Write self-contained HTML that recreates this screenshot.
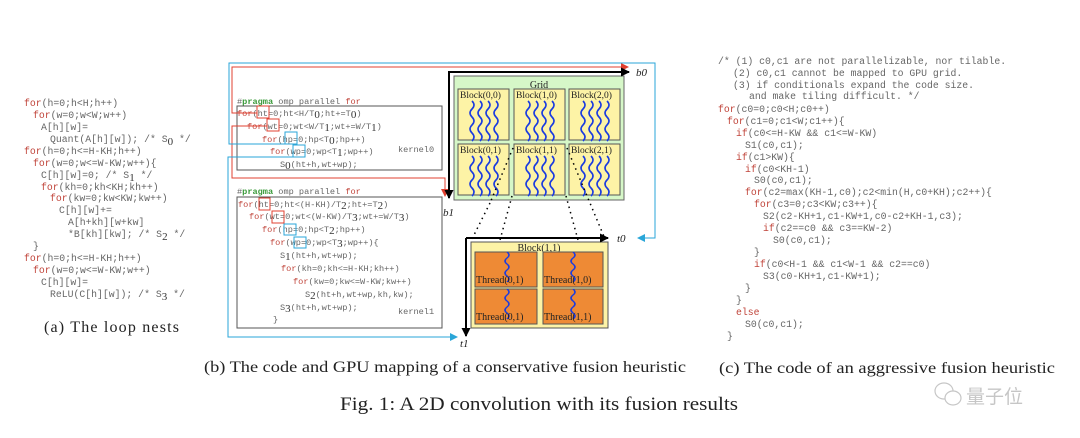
<!DOCTYPE html>
<html><head><meta charset="utf-8"><style>
html,body{margin:0;padding:0;background:#fff;}
svg{display:block;}
.m{font-family:"Liberation Mono",monospace;fill:#666;}
.k{fill:#c0443a;}
.g{fill:#3a9a3a;font-weight:bold;}
.s{font-family:"Liberation Serif",serif;fill:#222;}
.sub{font-family:"Liberation Serif",serif;font-size:11px;fill:#333;}
</style></head><body>
<svg width="1080" height="438" viewBox="0 0 1080 438" xmlns="http://www.w3.org/2000/svg">
<defs>
<marker id="ar" markerWidth="8" markerHeight="8" refX="7" refY="4" orient="auto" markerUnits="userSpaceOnUse"><path d="M0,0 L8,4 L0,8z" fill="#e04030"/></marker>
<marker id="ab" markerWidth="8" markerHeight="8" refX="7" refY="4" orient="auto" markerUnits="userSpaceOnUse"><path d="M0,0 L8,4 L0,8z" fill="#2aa6d8"/></marker>
<marker id="ak" markerWidth="9" markerHeight="9" refX="8" refY="4.5" orient="auto" markerUnits="userSpaceOnUse"><path d="M0,0 L9,4.5 L0,9z" fill="#000"/></marker>
<g id="wv"><path d="M0,0 q4,4 0,8 q-4,4 0,8 q4,4 0,8 q-4,4 0,8 q4,4 0,8" fill="none" stroke="#1a3be0" stroke-width="1.6"/></g>
</defs>

<!-- (a) -->
<g class="m" font-size="9.8">
<text x="24" y="106"><tspan class="k">for</tspan>(h=0;h&lt;H;h++)</text>
<text x="33" y="118"><tspan class="k">for</tspan>(w=0;w&lt;W;w++)</text>
<text x="41" y="130">A[h][w]=</text>
<text x="50" y="142">Quant(A[h][w]); /* S<tspan class="sub" dy="3">0</tspan><tspan dy="-3"> */</tspan></text>
<text x="24" y="154"><tspan class="k">for</tspan>(h=0;h&lt;=H-KH;h++)</text>
<text x="33" y="166"><tspan class="k">for</tspan>(w=0;w&lt;=W-KW;w++){</text>
<text x="41" y="178">C[h][w]=0;    /* S<tspan class="sub" dy="3">1</tspan><tspan dy="-3"> */</tspan></text>
<text x="41" y="190"><tspan class="k">for</tspan>(kh=0;kh&lt;KH;kh++)</text>
<text x="50" y="201"><tspan class="k">for</tspan>(kw=0;kw&lt;KW;kw++)</text>
<text x="59" y="213">C[h][w]+=</text>
<text x="68" y="225">A[h+kh][w+kw]</text>
<text x="68" y="237">*B[kh][kw]; /* S<tspan class="sub" dy="3">2</tspan><tspan dy="-3"> */</tspan></text>
<text x="33" y="249">}</text>
<text x="24" y="261"><tspan class="k">for</tspan>(h=0;h&lt;=H-KH;h++)</text>
<text x="33" y="273"><tspan class="k">for</tspan>(w=0;w&lt;=W-KW;w++)</text>
<text x="41" y="285">C[h][w]=</text>
<text x="50" y="297">ReLU(C[h][w]); /* S<tspan class="sub" dy="3">3</tspan><tspan dy="-3"> */</tspan></text>
</g>
<text class="s" x="44" y="332" font-size="16" textLength="135">(a) The loop nests</text>

<!-- (b) code -->
<rect x="237" y="106" width="205" height="64" fill="none" stroke="#555" stroke-width="1"/>
<rect x="237" y="197" width="205" height="131" fill="none" stroke="#555" stroke-width="1"/>
<g class="m" font-size="8.6">
<text x="237" y="104">#<tspan class="g">pragma</tspan> omp parallel <tspan class="k">for</tspan></text>
<text x="237" y="116"><tspan class="k">for</tspan>(ht=0;ht&lt;H/T<tspan class="sub" dy="2">0</tspan><tspan dy="-2">;ht+=T</tspan><tspan class="sub" dy="2">0</tspan><tspan dy="-2">)</tspan></text>
<text x="247" y="129"><tspan class="k">for</tspan>(wt=0;wt&lt;W/T<tspan class="sub" dy="2">1</tspan><tspan dy="-2">;wt+=W/T</tspan><tspan class="sub" dy="2">1</tspan><tspan dy="-2">)</tspan></text>
<text x="262" y="142"><tspan class="k">for</tspan>(hp=0;hp&lt;T<tspan class="sub" dy="2">0</tspan><tspan dy="-2">;hp++)</tspan></text>
<text x="270" y="154"><tspan class="k">for</tspan>(wp=0;wp&lt;T<tspan class="sub" dy="2">1</tspan><tspan dy="-2">;wp++)</tspan></text>
<text x="280" y="167">S<tspan class="sub" dy="2">0</tspan><tspan dy="-2">(ht+h,wt+wp);</tspan></text>
<text x="398" y="152">kernel0</text>
<text x="237" y="194">#<tspan class="g">pragma</tspan> omp parallel <tspan class="k">for</tspan></text>
<text x="238" y="207"><tspan class="k">for</tspan>(ht=0;ht&lt;(H-KH)/T<tspan class="sub" dy="2">2</tspan><tspan dy="-2">;ht+=T</tspan><tspan class="sub" dy="2">2</tspan><tspan dy="-2">)</tspan></text>
<text x="249" y="219"><tspan class="k">for</tspan>(wt=0;wt&lt;(W-KW)/T<tspan class="sub" dy="2">3</tspan><tspan dy="-2">;wt+=W/T</tspan><tspan class="sub" dy="2">3</tspan><tspan dy="-2">)</tspan></text>
<text x="262" y="232"><tspan class="k">for</tspan>(hp=0;hp&lt;T<tspan class="sub" dy="2">2</tspan><tspan dy="-2">;hp++)</tspan></text>
<text x="270" y="245"><tspan class="k">for</tspan>(wp=0;wp&lt;T<tspan class="sub" dy="2">3</tspan><tspan dy="-2">;wp++){</tspan></text>
<text x="280" y="258">S<tspan class="sub" dy="2">1</tspan><tspan dy="-2">(ht+h,wt+wp);</tspan></text>
<text x="281" y="271"><tspan class="k">for</tspan>(kh=0;kh&lt;=H-KH;kh++)</text>
<text x="293" y="284"><tspan class="k">for</tspan>(kw=0;kw&lt;=W-KW;kw++)</text>
<text x="305" y="297">S<tspan class="sub" dy="2">2</tspan><tspan dy="-2">(ht+h,wt+wp,kh,kw);</tspan></text>
<text x="280" y="310">S<tspan class="sub" dy="2">3</tspan><tspan dy="-2">(ht+h,wt+wp);</tspan></text>
<text x="398" y="314">kernel1</text>
<text x="273" y="322">}</text>
</g>
<!-- highlight boxes -->
<g fill="none" stroke-width="1">
<rect x="257" y="106" width="12" height="12" stroke="#e04030"/>
<rect x="267" y="119" width="12" height="12" stroke="#e04030"/>
<rect x="285" y="132" width="12" height="12" stroke="#2aa6d8"/>
<rect x="293" y="145" width="12" height="12" stroke="#2aa6d8"/>
<rect x="259" y="198" width="11" height="12" stroke="#e04030"/>
<rect x="272" y="211" width="12" height="12" stroke="#e04030"/>
<rect x="284" y="224" width="12" height="11" stroke="#2aa6d8"/>
<rect x="294" y="237" width="12" height="11" stroke="#2aa6d8"/>
</g>
<!-- connectors -->
<polyline points="257,113 232,113 232,67 628,67" fill="none" stroke="#e04030" stroke-width="1" marker-end="url(#ar)"/>
<polyline points="267,126 232,126 232,178 445,178 445,196" fill="none" stroke="#e04030" stroke-width="1" marker-end="url(#ar)"/>
<polyline points="285,144 229,144 229,63 655,63 655,238 638,238" fill="none" stroke="#2aa6d8" stroke-width="1" marker-end="url(#ab)"/>
<polyline points="293,157 228,157 228,337 457,337" fill="none" stroke="#2aa6d8" stroke-width="1" marker-end="url(#ab)"/>

<!-- Grid -->
<rect x="454" y="76" width="170" height="124" fill="#d6f7c8" stroke="#666" stroke-width="1"/>
<polyline points="629,72 449,72 449,197" fill="none" stroke="#000" stroke-width="2"/>
<line x1="449" y1="72" x2="629" y2="72" stroke="#000" stroke-width="2" marker-end="url(#ak)"/>
<line x1="449" y1="72" x2="449" y2="198" stroke="#000" stroke-width="2" marker-end="url(#ak)"/>
<text class="s" x="539" y="88" font-size="10" text-anchor="middle">Grid</text>
<g font-family="Liberation Serif,serif" font-size="9.5" fill="#222">
<g transform="translate(458,89)"><rect width="51" height="51" fill="#fdf3a6" stroke="#555"/><text x="2" y="9">Block(0,0)</text><use href="#wv" x="14" y="12"/><use href="#wv" x="22" y="12"/><use href="#wv" x="30" y="12"/><use href="#wv" x="38" y="12"/></g>
<g transform="translate(514,89)"><rect width="51" height="51" fill="#fdf3a6" stroke="#555"/><text x="2" y="9">Block(1,0)</text><use href="#wv" x="14" y="12"/><use href="#wv" x="22" y="12"/><use href="#wv" x="30" y="12"/><use href="#wv" x="38" y="12"/></g>
<g transform="translate(569,89)"><rect width="51" height="51" fill="#fdf3a6" stroke="#555"/><text x="2" y="9">Block(2,0)</text><use href="#wv" x="14" y="12"/><use href="#wv" x="22" y="12"/><use href="#wv" x="30" y="12"/><use href="#wv" x="38" y="12"/></g>
<g transform="translate(458,144)"><rect width="51" height="51" fill="#fdf3a6" stroke="#555"/><text x="2" y="9">Block(0,1)</text><use href="#wv" x="14" y="12"/><use href="#wv" x="22" y="12"/><use href="#wv" x="30" y="12"/><use href="#wv" x="38" y="12"/></g>
<g transform="translate(514,144)"><rect width="51" height="51" fill="#fdf3a6" stroke="#555"/><text x="2" y="9">Block(1,1)</text><use href="#wv" x="14" y="12"/><use href="#wv" x="22" y="12"/><use href="#wv" x="30" y="12"/><use href="#wv" x="38" y="12"/></g>
<g transform="translate(569,144)"><rect width="51" height="51" fill="#fdf3a6" stroke="#555"/><text x="2" y="9">Block(2,1)</text><use href="#wv" x="14" y="12"/><use href="#wv" x="22" y="12"/><use href="#wv" x="30" y="12"/><use href="#wv" x="38" y="12"/></g>
</g>
<text class="s" x="636" y="76" font-size="11" font-style="italic">b0</text>
<text class="s" x="443" y="216" font-size="11" font-style="italic">b1</text>

<!-- dotted -->
<g stroke="#000" stroke-width="1.5" stroke-dasharray="1.5,4" fill="none">
<line x1="513" y1="148" x2="490" y2="203"/>
<line x1="490" y1="203" x2="472" y2="239"/>
<line x1="512" y1="196" x2="500" y2="240"/>
<line x1="566" y1="196" x2="578" y2="240"/>
<line x1="567" y1="148" x2="605" y2="239"/>
</g>

<!-- Block(1,1) detail -->
<rect x="471" y="242" width="137" height="86" fill="#fdf3a6" stroke="#555"/>
<line x1="466" y1="238" x2="608" y2="238" stroke="#000" stroke-width="2" marker-end="url(#ak)"/>
<line x1="466" y1="238" x2="466" y2="336" stroke="#000" stroke-width="2" marker-end="url(#ak)"/>
<text class="s" x="539" y="251" font-size="10" text-anchor="middle">Block(1,1)</text>
<g font-family="Liberation Serif,serif" font-size="10" fill="#222">
<g transform="translate(475,252)"><rect width="62" height="35" fill="#ee8a35" stroke="#555"/><use href="#wv" x="32" y="0" transform="scale(1,0.75)"/><text x="1" y="31">Thread(0,1)</text></g>
<g transform="translate(543,252)"><rect width="60" height="35" fill="#ee8a35" stroke="#555"/><use href="#wv" x="30" y="0" transform="scale(1,0.75)"/><text x="1" y="31">Thread(1,0)</text></g>
<g transform="translate(475,289)"><rect width="62" height="35" fill="#ee8a35" stroke="#555"/><use href="#wv" x="32" y="0" transform="scale(1,0.75)"/><text x="1" y="31">Thread(0,1)</text></g>
<g transform="translate(543,289)"><rect width="60" height="35" fill="#ee8a35" stroke="#555"/><use href="#wv" x="30" y="0" transform="scale(1,0.75)"/><text x="1" y="31">Thread(1,1)</text></g>
</g>
<text class="s" x="617" y="242" font-size="11" font-style="italic">t0</text>
<text class="s" x="460" y="347" font-size="11" font-style="italic">t1</text>

<text class="s" x="204" y="372" font-size="16" textLength="482" lengthAdjust="spacingAndGlyphs">(b) The code and GPU mapping of a conservative fusion heuristic</text>

<!-- (c) -->
<g class="m" font-size="9.8">
<text x="718" y="64">/* (1) c0,c1 are not parallelizable, nor tilable.</text>
<text x="733" y="76">(2) c0,c1 cannot be mapped to GPU grid.</text>
<text x="733" y="88">(3) if conditionals expand the code size.</text>
<text x="749" y="99">and make tiling difficult. */</text>
<text x="718" y="112"><tspan class="k">for</tspan>(c0=0;c0&lt;H;c0++)</text>
<text x="727" y="124"><tspan class="k">for</tspan>(c1=0;c1&lt;W;c1++){</text>
<text x="736" y="136"><tspan class="k">if</tspan>(c0&lt;=H-KW &amp;&amp; c1&lt;=W-KW)</text>
<text x="745" y="148">S1(c0,c1);</text>
<text x="736" y="160"><tspan class="k">if</tspan>(c1&gt;KW){</text>
<text x="745" y="172"><tspan class="k">if</tspan>(c0&lt;KH-1)</text>
<text x="754" y="183">S0(c0,c1);</text>
<text x="745" y="195"><tspan class="k">for</tspan>(c2=max(KH-1,c0);c2&lt;min(H,c0+KH);c2++){</text>
<text x="754" y="207"><tspan class="k">for</tspan>(c3=0;c3&lt;KW;c3++){</text>
<text x="763" y="219">S2(c2-KH+1,c1-KW+1,c0-c2+KH-1,c3);</text>
<text x="763" y="231"><tspan class="k">if</tspan>(c2==c0 &amp;&amp; c3==KW-2)</text>
<text x="773" y="243">S0(c0,c1);</text>
<text x="754" y="255">}</text>
<text x="754" y="267"><tspan class="k">if</tspan>(c0&lt;H-1 &amp;&amp; c1&lt;W-1 &amp;&amp; c2==c0)</text>
<text x="763" y="279">S3(c0-KH+1,c1-KW+1);</text>
<text x="745" y="291">}</text>
<text x="736" y="303">}</text>
<text x="736" y="315"><tspan class="k">else</tspan></text>
<text x="745" y="327">S0(c0,c1);</text>
<text x="727" y="339">}</text>
</g>
<text class="s" x="719" y="373" font-size="16" textLength="336" lengthAdjust="spacingAndGlyphs">(c) The code of an aggressive fusion heuristic</text>

<text class="s" x="340" y="410" font-size="19" textLength="398" lengthAdjust="spacingAndGlyphs">Fig. 1: A 2D convolution with its fusion results</text>

<!-- watermark -->
<g opacity="0.55">
<ellipse cx="944" cy="391" rx="9" ry="8" fill="none" stroke="#999" stroke-width="1.2"/>
<ellipse cx="953" cy="398" rx="8" ry="7" fill="#fff" stroke="#999" stroke-width="1.2"/>
<text x="966" y="403" font-family="'Noto Sans CJK SC',sans-serif" font-size="19" fill="#999">量子位</text>
</g>
</svg>
</body></html>
